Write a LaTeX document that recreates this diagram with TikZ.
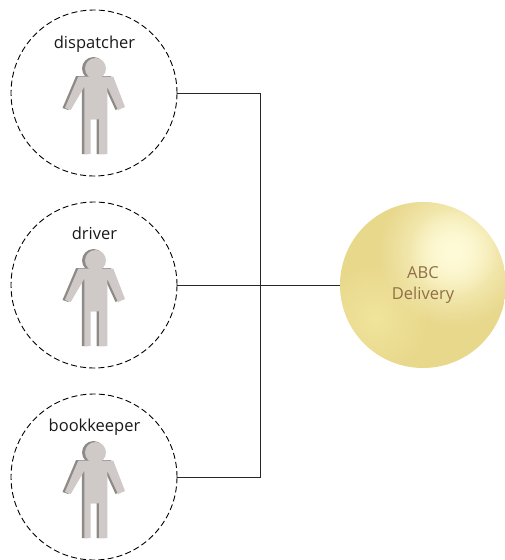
\documentclass[tikz,border=0pt]{standalone}
\usepackage{fontspec}
\setmainfont{Open Sans}
\usetikzlibrary{fadings}
\definecolor{goldbase}{HTML}{E8D88C}
\definecolor{goldhi}{HTML}{FFFBD8}
\definecolor{goldlo}{HTML}{F0E59C}
\definecolor{goldtext}{HTML}{8F6F47}
\definecolor{personface}{HTML}{CFCAC7}
\definecolor{personside}{HTML}{8F8A88}
\tikzfading[name=softspot, inner color=transparent!0, outer color=transparent!100]
\tikzset{
  x=1pt,y=-1pt,
  rolecircle/.style={circle,draw=black,dash pattern=on 6pt off 3.2pt,line width=0.9pt,minimum size=166pt,inner sep=0pt},
  wire/.style={draw=black!85,line width=0.9pt},
  rolelabel/.style={font=\fontsize{16.5}{18}\selectfont,text=black!90,inner sep=0pt,anchor=base},
  pics/person/.style={code={
    \fill[personside] (-0.5,-7.5) circle[x=1pt,y=1pt,radius=11.5pt];
    \path[fill=personside] (-18,0.2) -- (17,0.2) -- (28.5,31) -- (21.5,34) -- (10.8,10.7) -- (10.8,78) -- (2.5,78) -- (2.5,43) -- (-5.8,43) -- (-5.8,78) -- (-12.2,78) -- (-12.2,10.7) -- (-25.8,34) -- (-31.5,32) -- cycle;
    \fill[personface] (1.5,-7.5) circle[x=1pt,y=1pt,radius=10.5pt];
    \path[fill=personface] (-15.7,0.7) -- (19.3,0.7) -- (31,31) -- (24,34) -- (13.3,10.7) -- (13.3,78) -- (5,78) -- (5,43.3) -- (-3.3,43.3) -- (-3.3,78) -- (-9.7,78) -- (-9.7,10.7) -- (-23.3,34) -- (-29,32) -- cycle;
  }}
}
\begin{document}
\begin{tikzpicture}
\useasboundingbox (0,0) rectangle (505,560);
\node[rolecircle] (c1) at (94,93) {};
\node[rolecircle] (c2) at (94,285) {};
\node[rolecircle] (c3) at (94,477) {};
\node[circle,minimum size=166pt,inner sep=0pt] (abc) at (423,285) {};
\begin{scope}
  \clip (423,285) circle[x=1pt,y=1pt,radius=83pt];
  \fill[goldbase] (335,197) rectangle (510,373);
  \fill[goldlo,path fading=softspot] (375,318) circle[x=1pt,y=1pt,radius=55pt];
  \fill[goldhi,path fading=softspot] (453,252) circle[x=1pt,y=1pt,radius=75pt];
  \fill[goldhi,path fading=softspot] (453,252) circle[x=1pt,y=1pt,radius=45pt];
\end{scope}
\coordinate (junction) at (260,285);
\draw[wire] (c1.east) -| (junction);
\draw[wire] (c3.east) -| (junction);
\draw[wire] (c2.east) -- (abc.west);
\pic at (94,76) {person};
\pic at (94,268) {person};
\pic at (94,460) {person};
\node[rolelabel] at (94.5,48) {dispatcher};
\node[rolelabel] at (94.5,239) {driver};
\node[rolelabel] at (94.5,431) {bookkeeper};
\node[text=goldtext,font=\fontsize{16.5}{21}\selectfont,align=center,inner sep=0pt] at (423,285) {ABC\\Delivery};
\end{tikzpicture}
\end{document}
